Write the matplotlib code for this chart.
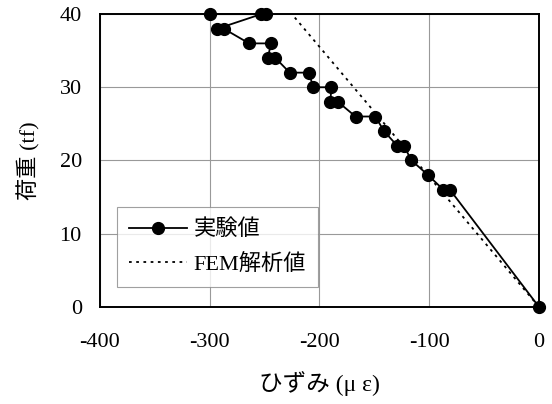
import matplotlib
matplotlib.use('Agg')
from matplotlib import pyplot as plt

# experimental values (strain, load) in drawing order
exp_strain = [0, -81, -87, -101, -116, -123, -129, -141, -149, -167, -183, -190,
              -189, -206, -209, -227, -240, -247, -244, -264, -287, -293, -253, -249, -300]
exp_load = [0, 16, 16, 18, 20, 22, 22, 24, 26, 26, 28, 28,
            30, 30, 32, 32, 34, 34, 36, 36, 38, 38, 40, 40, 40]

# FEM analysis
fem_strain = [0, -225]
fem_load = [0, 40]

x_ticks = [-400, -300, -200, -100, 0]
y_ticks = [0, 10, 20, 30, 40]

fonts = ['Liberation Serif', 'Noto Sans CJK JP']
plt.rcParams['font.family'] = fonts
plt.rcParams['axes.unicode_minus'] = False

fig = plt.figure(figsize=(5.52, 4.04), dpi=100)
ax = fig.add_axes([0.181, 0.241, 0.795, 0.724])

ax.plot(exp_strain, exp_load, color='black', lw=1.3, marker='o', markersize=8.5,
        label='実験値', zorder=3, clip_on=False)
ax.plot(fem_strain, fem_load, color='black', lw=1.3, ls=(0, (1.5, 2.5)),
        label='FEM解析値', zorder=2)

ax.set_xlim(-400, 0)
ax.set_ylim(0, 40)
ax.set_xticks(x_ticks)
ax.set_yticks(y_ticks)
ax.tick_params(axis='x', length=0, labelsize=16, pad=19)
ax.tick_params(axis='y', length=0, labelsize=16, pad=13)
ax.grid(True, color='#999999', lw=0.8)
for side in ['left', 'bottom', 'top', 'right']:
    ax.spines[side].set_linewidth(1.4)

ax.set_xlabel('ひずみ (μ ε)', fontsize=17, labelpad=14)
ax.set_ylabel('荷重 (tf)', fontsize=16, labelpad=14)

leg = ax.legend(loc='lower left', bbox_to_anchor=(0.039, 0.067), fontsize=16,
                frameon=True, fancybox=False, edgecolor='#888888',
                handlelength=2.6, handletextpad=0.3, borderpad=0.55,
                labelspacing=0.6, borderaxespad=0)
leg.get_frame().set_linewidth(0.8)

fig.savefig('out.png', dpi=100)
